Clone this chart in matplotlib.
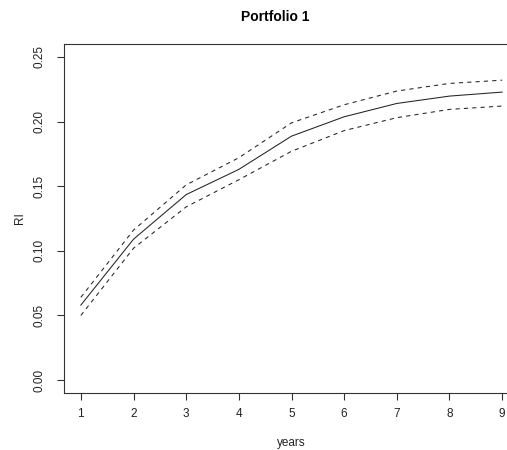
import matplotlib
matplotlib.use("Agg")
import matplotlib.pyplot as plt

years = [1, 2, 3, 4, 5, 6, 7, 8, 9]
ri_mean = [0.058, 0.109, 0.1435, 0.163, 0.1887, 0.2037, 0.214, 0.2197, 0.2228]
ri_upper = [0.064, 0.116, 0.151, 0.172, 0.199, 0.213, 0.2236, 0.2295, 0.232]
ri_lower = [0.050, 0.102, 0.134, 0.155, 0.177, 0.193, 0.203, 0.2094, 0.212]
xticks = [1, 2, 3, 4, 5, 6, 7, 8, 9]
yticks = [0.00, 0.05, 0.10, 0.15, 0.20, 0.25]

plt.rcParams['font.family'] = ['Liberation Sans', 'DejaVu Sans']

W, H = 507, 450
fig = plt.figure(figsize=(W / 100, H / 100), dpi=100)
left, right, top, bottom = 64, 519, 44, 393
ax = fig.add_axes([left / W, 1 - bottom / H, (right - left) / W, (bottom - top) / H])

lw = 0.75
ax.plot(years, ri_mean, color='#222222', lw=lw)
ax.plot(years, ri_upper, color='#222222', lw=lw, ls=(0, (4, 4)))
ax.plot(years, ri_lower, color='#222222', lw=lw, ls=(0, (4, 4)))

ax.set_xlim(0.68, 9.32)
ax.set_ylim(-0.01, 0.26)
ax.set_xticks(xticks)
ax.set_xticklabels([str(t) for t in xticks])
ax.set_yticks(yticks)
ax.set_yticklabels([f"{t:.2f}" for t in yticks], rotation=90, va='center')
ax.tick_params(axis='both', labelsize=8.5, length=5, width=0.8, color='#333333', pad=6, labelcolor='#222222')
ax.tick_params(axis='y', pad=8)
for s in ax.spines.values():
    s.set_linewidth(0.8)
    s.set_color('#333333')

ax.set_xlabel('years', fontsize=8.5, labelpad=12, color='#222222')
ax.set_ylabel('RI', fontsize=8.5, labelpad=6, color='#222222')
fig.text(275 / W, 1 - 17 / H, 'Portfolio 1', fontsize=10, fontweight='bold', ha='center', va='center')

fig.savefig('out.png', dpi=100)
